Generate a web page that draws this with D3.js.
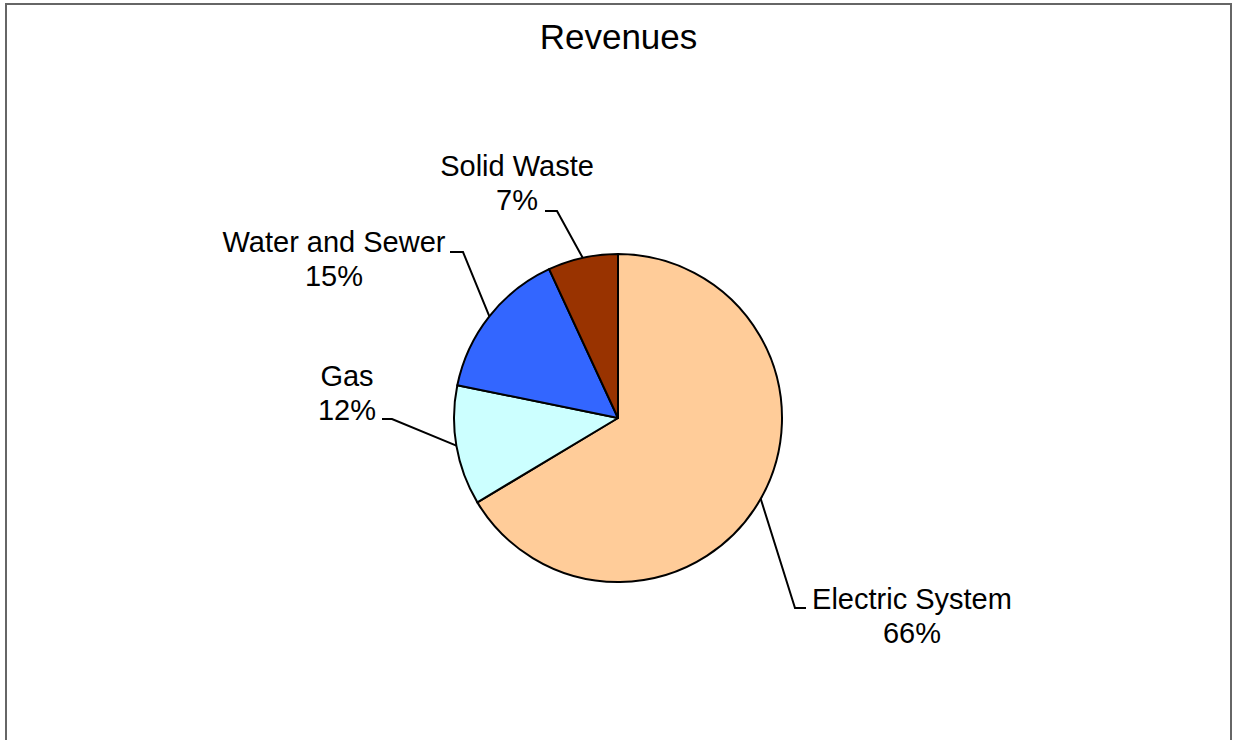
<html>
  <head>
    <title>Revenues</title>
    <style>
      body { margin: 0; background: #fff; }
      text { font-family: "Liberation Sans", Arial, sans-serif; fill: #000; }
    </style>
  </head>
  <body>
    <script type="text/javascript" src="https://d3js.org/d3.v7.min.js"></script>
    <script type="text/javascript">
    var width = 1233,
        height = 740,
        cx = 618, cy = 418,
        radius = 164;

    // data, clockwise from 12 o'clock
    var categories = ["Electric System", "Gas", "Water and Sewer", "Solid Waste"];
    var shares = [66.4, 11.8, 14.9, 6.9];
    var colors = ["#FFCC99", "#CCFFFF", "#3366FF", "#993300"];

    // label layout, relative to the pie centre
    var labelPos = [
      { x: 294, y: 191, ex: 177, ey: 190, tick: 11 },
      { x: -271, y: -32, ex: -226, ey: 1, tick: -10 },
      { x: -284, y: -166, ex: -155, ey: -166, tick: -13 },
      { x: -101, y: -242, ex: -61, ey: -207, tick: -12 }
    ];

    var data = categories.map(function(c, i) {
      return { name: c, value: shares[i], color: colors[i], pos: labelPos[i] };
    });

    var svg = d3.select('body')
      .append('svg')
        .attr('width', width)
        .attr('height', height);

    // frame
    svg.append('rect')
      .attr('x', 6).attr('y', 4)
      .attr('width', 1225).attr('height', 760)
      .attr('fill', 'none')
      .attr('stroke', '#666')
      .attr('stroke-width', 2);

    svg.append('text')
      .attr('x', 618.5).attr('y', 49)
      .attr('text-anchor', 'middle')
      .style('font-size', '35px')
      .text('Revenues');

    var pie = d3.pie()
      .value(function(d) { return d.value; })
      .sort(null);

    var arc = d3.arc()
      .innerRadius(0)
      .outerRadius(radius);

    var g = svg.append('g')
      .attr('transform', "translate(" + cx + "," + cy + ")");

    var arcs = pie(data);

    g.selectAll('path.slice')
      .data(arcs)
      .enter().append('path')
        .attr('class', 'slice')
        .attr('d', arc)
        .attr('fill', function(d) { return d.data.color; })
        .attr('stroke', '#000')
        .attr('stroke-width', 2)
        .attr('stroke-linejoin', 'round');

    // leader lines
    g.selectAll('path.leader')
      .data(arcs)
      .enter().append('path')
        .attr('class', 'leader')
        .attr('fill', 'none')
        .attr('stroke', '#000')
        .attr('stroke-width', 2)
        .attr('d', function(d) {
          var a = (d.startAngle + d.endAngle) / 2,
              p = d.data.pos;
          var sx = radius * Math.sin(a), sy = -radius * Math.cos(a);
          return "M" + sx + "," + sy + "L" + p.ex + "," + p.ey + "L" + (p.ex + p.tick) + "," + p.ey;
        });

    var labels = g.selectAll('text.label')
      .data(arcs)
      .enter().append('text')
        .attr('class', 'label')
        .attr('text-anchor', 'middle')
        .style('font-size', '29px');

    labels.append('tspan')
      .attr('x', function(d) { return d.data.pos.x; })
      .attr('y', function(d) { return d.data.pos.y; })
      .text(function(d) { return d.data.name; });

    labels.append('tspan')
      .attr('x', function(d) { return d.data.pos.x; })
      .attr('y', function(d) { return d.data.pos.y + 33.5; })
      .text(function(d) { return Math.round(d.data.value) + "%"; });
    </script>
  </body>
</html>
